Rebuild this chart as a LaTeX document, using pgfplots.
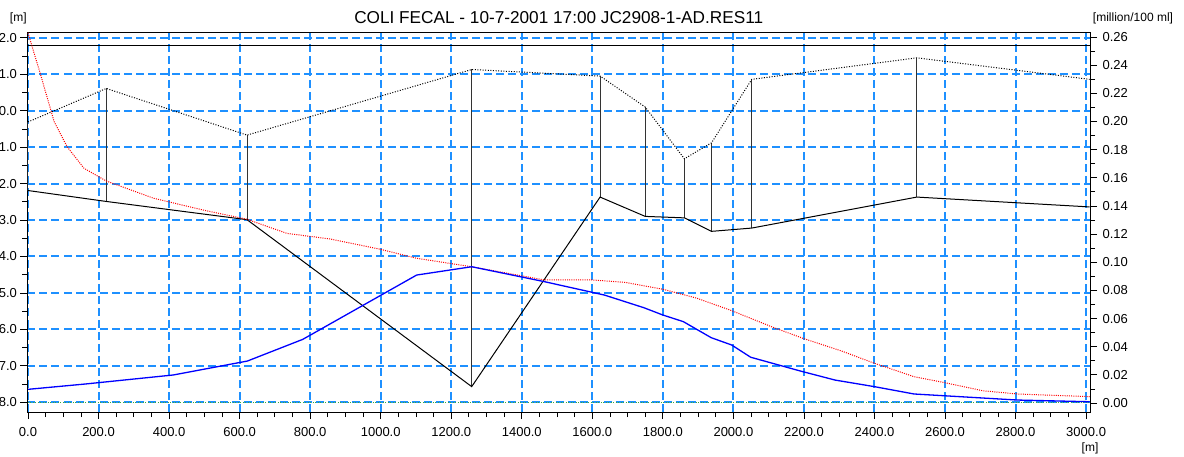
\documentclass[border=0pt]{standalone}
\usepackage{pgfplots}
\pgfplotsset{compat=1.18}
\usepackage{fontspec}
\setmainfont{Liberation Sans}
\definecolor{gridblue}{RGB}{30,144,255}
\definecolor{bedgreen}{RGB}{60,170,60}

\pgfplotsset{
  profile/.style={
    scale only axis, width=1062.5pt, height=379.5pt,
    xmin=-1.4, xmax=3011,
    at={(0pt,0pt)}, anchor=south west,
    tick align=outside,
    major tick length=7pt, minor tick length=5pt,
    tick style={black, line width=0.8pt},
    tick label style={font=\fontsize{13}{13}\selectfont},
    /pgf/number format/assume math mode=true,
    axis line style={black, line width=1pt},
    clip=true,
  }
}

\begin{document}
\begin{tikzpicture}
\useasboundingbox (-27.5pt,-44pt) rectangle (1156.5pt,412pt);

% dashed grid, laid under the axes: every 200 m and every 1 m of level
\foreach \m in {0,200,...,3000} {
  \pgfmathsetmacro\xx{(\m+1.4)/3012.4*1062.5}
  \foreach \d in {0,12,...,372} {
    \pgfmathsetmacro\len{min(8,379.5-\d)}
    \fill[gridblue] (\xx pt-1pt,\d pt) rectangle ++(2pt,\len pt);
  }
}
\foreach \v in {-8,-7,...,2} {
  \pgfmathsetmacro\yy{(\v+8.266)/10.411*379.5}
  \foreach \d in {0,12,...,1056} {
    \pgfmathsetmacro\len{min(8,1062.5-\d)}
    \fill[gridblue] (\d pt,\yy pt-1pt) rectangle ++(\len pt,2pt);
  }
}

% Levels [m]: bank line, bed line and cross-sections
\begin{axis}[profile,
  ymin=-8.266, ymax=2.145,
  xtick={0,200,...,3000}, minor x tick num=3,
  ytick={-8,-7,...,2}, minor y tick num=1,
  xtick pos=left, ytick pos=left,
  xticklabel style={yshift=-5pt, /pgf/number format/.cd, fixed, fixed zerofill, precision=1, 1000 sep={}},
  yticklabel style={/pgf/number format/.cd, fixed, fixed zerofill, precision=1},
  unbounded coords=jump,
]
% reference level
\addplot[black, line width=1pt] coordinates {(-1.4,1.80) (3011,1.80)};
% cross-sections
\addplot[black!80, line width=1pt] coordinates {
  (0,-0.31) (0,-2.19) (0,nan)
  (222,0.61) (222,-2.49) (222,nan)
  (621,-0.67) (621,-2.99) (621,nan)
  (1258,1.13) (1258,-7.57) (1258,nan)
  (1622,0.95) (1622,-2.37) (1622,nan)
  (1750,0.10) (1750,-2.90) (1750,nan)
  (1861,-1.32) (1861,-2.94) (1861,nan)
  (1938,-0.88) (1938,-3.31) (1938,nan)
  (2052,0.86) (2052,-3.22) (2052,nan)
  (2520,1.45) (2520,-2.37)
};
% bed level
\addplot[black, line width=1pt] coordinates {
  (0,-2.19) (222,-2.49) (621,-2.99) (1258,-7.57) (1622,-2.37) (1750,-2.90)
  (1861,-2.94) (1938,-3.31) (2052,-3.22) (2520,-2.37) (3010,-2.64)
};
% bank level
\addplot[black, line width=1pt, dash pattern=on 1pt off 1.6pt] coordinates {
  (0,-0.31) (222,0.61) (621,-0.67) (1258,1.13) (1622,0.95) (1750,0.10)
  (1861,-1.32) (1938,-0.88) (2052,0.86) (2520,1.45) (3010,0.86)
};
\end{axis}

% Concentration [million/100 ml]
\begin{axis}[profile,
  ymin=-0.0064, ymax=0.2632,
  axis x line=none, axis y line*=right,
  ytick={0,0.02,...,0.261}, minor y tick num=1,
  yticklabel style={xshift=2pt, /pgf/number format/.cd, fixed, fixed zerofill, precision=2},
]
\addplot[bedgreen, line width=1pt, dash pattern=on 1pt off 1.5pt] coordinates {(0,0) (3010,0)};
\addplot[red, line width=1pt, dash pattern=on 1pt off 1.2pt] coordinates {
  (0,0.263) (36,0.233) (74,0.200) (111,0.182) (159,0.1667) (222,0.1577)
  (357,0.1454) (498,0.137) (621,0.1305) (734,0.1205) (857,0.1165) (999,0.1092)
  (1102,0.1028) (1258,0.0968) (1464,0.0874) (1600,0.0874) (1693,0.0857)
  (1800,0.0808) (1897,0.0744) (1995,0.0656) (2112,0.0538) (2200,0.0457)
  (2307,0.0369) (2400,0.0282) (2512,0.0187) (2600,0.0144) (2707,0.0087)
  (2805,0.0064) (3010,0.0045)
};
\addplot[blue, line width=1.3pt] coordinates {
  (0,0.0097) (163,0.0135) (412,0.0199) (622,0.0298) (779,0.0452) (1102,0.0909)
  (1258,0.0968) (1464,0.0862) (1600,0.0786) (1634,0.0767) (1746,0.0677)
  (1800,0.0625) (1858,0.0578) (1937,0.0464) (1995,0.0412) (2049,0.0325)
  (2190,0.0227) (2288,0.0163) (2400,0.0116) (2512,0.0064) (2805,0.0021)
  (3010,0.0009)
};
\end{axis}

\node[font=\fontsize{17.2}{17.2}\selectfont] at (531.25pt,394pt) {COLI FECAL - 10-7-2001 17:00 JC2908-1-AD.RES11};
\node[font=\fontsize{12}{12}\selectfont] at (-9.2pt,394pt) {[m]};
\node[font=\fontsize{12}{12}\selectfont] at (1105.5pt,394pt) {[million/100 ml]};
\node[font=\fontsize{12}{12}\selectfont] at (1062.5pt,-36pt) {[m]};
\end{tikzpicture}
\end{document}
